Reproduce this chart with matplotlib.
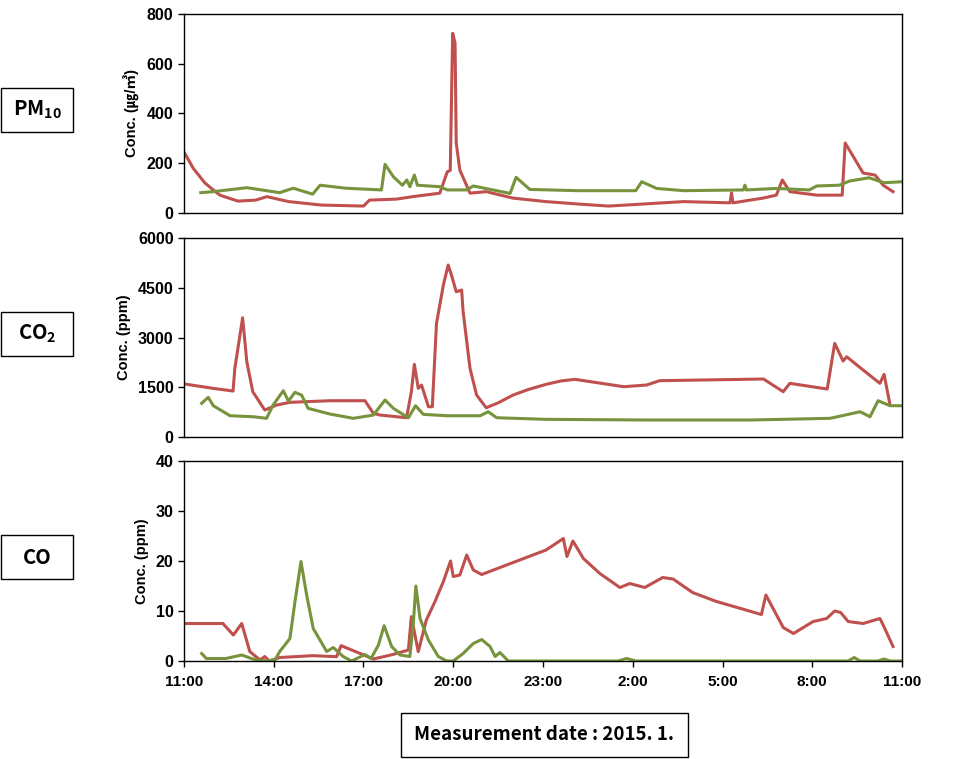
import matplotlib
matplotlib.use("Agg")
import matplotlib.pyplot as plt
from matplotlib.patches import Rectangle

plt.rcParams.update({
    "font.family": ["Liberation Sans", "Noto Sans CJK KR", "DejaVu Sans"],
    "font.weight": "bold",
    "font.size": 10.5,
    "axes.linewidth": 1.0,
    "mathtext.default": "regular",
})

RED = "#C0504D"
GREEN = "#77933C"

# hours after 11:00 on the x axis
X_TICKS = [0, 3, 6, 9, 12, 15, 18, 21, 24]
X_LABELS = ["11:00", "14:00", "17:00", "20:00", "23:00", "2:00", "5:00", "8:00", "11:00"]

# --- PM10 (ug/m3) ---
pm_red_t = [0.03, 0.31, 0.7, 0.98, 1.2, 1.8, 2.4, 2.77, 3.5, 4.6, 6.0, 6.2, 7.1, 7.65,
            8.55, 8.8, 8.9, 8.98, 9.06, 9.1, 9.22, 9.56, 10.1, 11.0, 12.1, 13.2, 14.2,
            16.7, 18.25, 18.3, 18.35, 19.35, 19.8, 20.0, 20.25, 21.15, 22.0, 22.1,
            22.7, 23.1, 23.37, 23.7]
pm_red_v = [238, 178, 119, 91, 70, 46, 50, 64, 44, 30, 26, 50, 54, 64,
            78, 164, 170, 722, 683, 280, 171, 78, 84, 58, 44, 34, 26,
            44, 39, 79, 39, 58, 70, 131, 84, 70, 70, 280,
            159, 151, 110, 84]
pm_green_t = [0.56, 0.97, 2.1, 3.2, 3.65, 4.3, 4.55, 5.4, 6.6, 6.72, 7.0, 7.3, 7.45,
              7.55, 7.7, 7.8, 8.55, 8.8, 9.45, 9.67, 10.9, 11.1, 11.56, 13.2, 15.1,
              15.3, 15.8, 16.7, 18.7, 18.75, 18.8, 19.8, 20.9, 21.15, 21.9, 22.25,
              22.9, 23.4, 24.0]
pm_green_v = [80, 84, 100, 80, 98, 74, 110, 98, 91, 194, 144, 110, 131,
              104, 151, 110, 104, 91, 91, 107, 77, 142, 93, 88, 88,
              124, 97, 88, 91, 110, 91, 97, 91, 107, 110, 127,
              140, 120, 124]

# --- CO2 (ppm) ---
co2_red_t = [0.03, 0.97, 1.64, 1.7, 1.96, 2.1, 2.3, 2.7, 3.1, 3.54, 4.88, 6.05, 6.33,
             6.55, 7.44, 7.6, 7.7, 7.83, 7.94, 8.17, 8.3, 8.44, 8.67, 8.83, 8.94,
             9.1, 9.28, 9.33, 9.56, 9.78, 10.1, 10.5, 11.0, 11.5, 12.1, 12.6, 13.07,
             14.7, 15.46, 15.9, 19.37, 20.03, 20.25, 21.5, 21.75, 22.03, 22.15,
             22.7, 23.26, 23.4, 23.6]
co2_red_v = [1598, 1468, 1387, 2071, 3597, 2270, 1366, 814, 965, 1046, 1095, 1095, 715,
             663, 582, 1366, 2192, 1468, 1568, 914, 914, 3428, 4583, 5186, 4884,
             4381, 4432, 3779, 2071, 1266, 884, 1030, 1266, 1430, 1588, 1690, 1739,
             1517, 1568, 1699, 1749, 1366, 1619, 1447, 2825, 2291, 2421,
             2020, 1619, 1890, 965]
co2_green_t = [0.59, 0.81, 0.98, 1.54, 2.32, 2.76, 2.98, 3.32, 3.49, 3.71, 3.93, 4.15,
               4.88, 5.66, 6.33, 6.72, 7.0, 7.5, 7.74, 8.0, 8.78, 9.9, 10.17, 10.45,
               12.1, 15.58, 18.9, 21.6, 22.6, 22.93, 23.2, 23.6, 24.0]
co2_green_v = [1016, 1197, 944, 642, 612, 564, 965, 1396, 1085, 1347, 1266, 864,
               693, 564, 663, 1116, 864, 582, 944, 684, 642, 642, 763, 582,
               533, 513, 513, 564, 763, 612, 1095, 944, 944]

# --- CO (ppm) ---
co_red_t = [0.03, 1.3, 1.65, 1.93, 2.2, 2.54, 2.7, 2.85, 3.2, 4.3, 5.1, 5.25, 5.88,
            6.33, 7.0, 7.5, 7.6, 7.83, 8.1, 8.39, 8.67, 8.91, 9.0, 9.22, 9.45, 9.67,
            9.95, 11.0, 12.1, 12.68, 12.8, 13.0, 13.35, 13.9, 14.57, 14.9, 15.4,
            16.0, 16.35, 17.0, 17.8, 19.3, 19.45, 20.03, 20.37, 21.03, 21.48,
            21.75, 21.95, 22.2, 22.7, 23.26, 23.37, 23.7]
co_red_v = [7.5, 7.5, 5.2, 7.5, 1.9, 0.2, 0.9, 0.0, 0.7, 1.07, 0.87, 3.07, 1.53,
            0.4, 1.33, 2.2, 8.87, 1.87, 8.2, 11.9, 15.9, 20.0, 16.9, 17.2, 21.2, 18.2,
            17.3, 19.7, 22.2, 24.5, 20.9, 24.0, 20.5, 17.5, 14.7, 15.5, 14.7,
            16.7, 16.4, 13.7, 11.9, 9.3, 13.2, 6.7, 5.5, 7.9, 8.5,
            10.0, 9.7, 7.9, 7.5, 8.5, 7.2, 2.9]
co_green_t = [0.59, 0.75, 1.4, 1.93, 2.3, 2.6, 3.04, 3.2, 3.54, 3.71, 3.91, 4.1, 4.32,
              4.77, 4.99, 5.32, 5.6, 6.05, 6.25, 6.5, 6.69, 6.94, 7.22, 7.55, 7.67,
              7.75, 7.89, 8.17, 8.5, 8.78, 9.0, 9.33, 9.67, 9.95, 10.23, 10.4, 10.56,
              10.84, 14.5, 14.8, 15.1, 22.2, 22.4, 22.6, 23.2, 23.4, 23.6, 24.0]
co_green_v = [1.5, 0.5, 0.5, 1.2, 0.4, 0.0, 0.2, 1.9, 4.5, 11.9, 19.9, 13.2, 6.5,
              1.9, 2.7, 0.9, 0.0, 1.3, 0.5, 3.2, 7.07, 2.9, 1.2, 0.9, 7.9,
              15.0, 8.5, 4.2, 0.9, 0.0, 0.0, 1.5, 3.5, 4.3, 2.9, 0.9, 1.7,
              0.0, 0.0, 0.5, 0.0, 0.0, 0.7, 0.0, 0.0, 0.4, 0.0, 0.0]

PANELS = [
    (pm_red_t, pm_red_v, pm_green_t, pm_green_v, [0, 200, 400, 600, 800],
     "Conc. (\u338d/\u33a5)"),
    (co2_red_t, co2_red_v, co2_green_t, co2_green_v, [0, 1500, 3000, 4500, 6000],
     "Conc. (ppm)"),
    (co_red_t, co_red_v, co_green_t, co_green_v, [0, 10, 20, 30, 40],
     "Conc. (ppm)"),
]
AX_RECTS = [
    [0.1889, 0.7200, 0.7372, 0.2616],
    [0.1889, 0.4242, 0.7372, 0.2622],
    [0.1889, 0.1291, 0.7372, 0.2635],
]

fig = plt.figure(figsize=(9.74, 7.59), dpi=100)

for i, (rt, rv, gt, gv, yt, ylab) in enumerate(PANELS):
    ax = fig.add_axes(AX_RECTS[i])
    ax.plot(rt, rv, color=RED, linewidth=2.2, solid_joinstyle="round")
    ax.plot(gt, gv, color=GREEN, linewidth=2.2, solid_joinstyle="round")
    ax.set_xlim(0, 24)
    ax.set_ylim(yt[0], yt[-1])
    ax.set_yticks(yt)
    ax.set_xticks(X_TICKS)
    ax.tick_params(axis="y", direction="out", length=4, width=1.0, labelsize=11.5)
    if i == 2:
        ax.set_xticklabels(X_LABELS)
        ax.tick_params(axis="x", direction="out", length=4, width=1.0,
                       labelsize=11, pad=6)
    else:
        ax.tick_params(axis="x", length=0, labelbottom=False)
    ax.set_ylabel(ylab, fontsize=10.5, fontweight="bold", labelpad=5)
    for spine in ax.spines.values():
        spine.set_color("black")

# boxed panel names on the left
BOX_FONT = ["Noto Sans CJK KR", "DejaVu Sans"]
for label, yc in [("PM$_{\\mathregular{10}}$", 0.855), ("CO$_{\\mathregular{2}}$", 0.560),
                  ("CO", 0.2655)]:
    fig.add_artist(Rectangle((0.0015, yc - 0.029), 0.0735, 0.058,
                             transform=fig.transFigure, fill=False,
                             edgecolor="black", linewidth=1.0))
    fig.text(0.038, yc, label, ha="center", va="center", fontsize=14.5,
             fontweight="bold", family=BOX_FONT)

fig.add_artist(Rectangle((0.4117, 0.003), 0.2947, 0.058,
                         transform=fig.transFigure, fill=False,
                         edgecolor="black", linewidth=1.0))
fig.text(0.559, 0.032, "Measurement date : 2015. 1.", ha="center", va="center",
         fontsize=13.5, fontweight="bold", family=BOX_FONT)

fig.savefig("out.png", dpi=100)
